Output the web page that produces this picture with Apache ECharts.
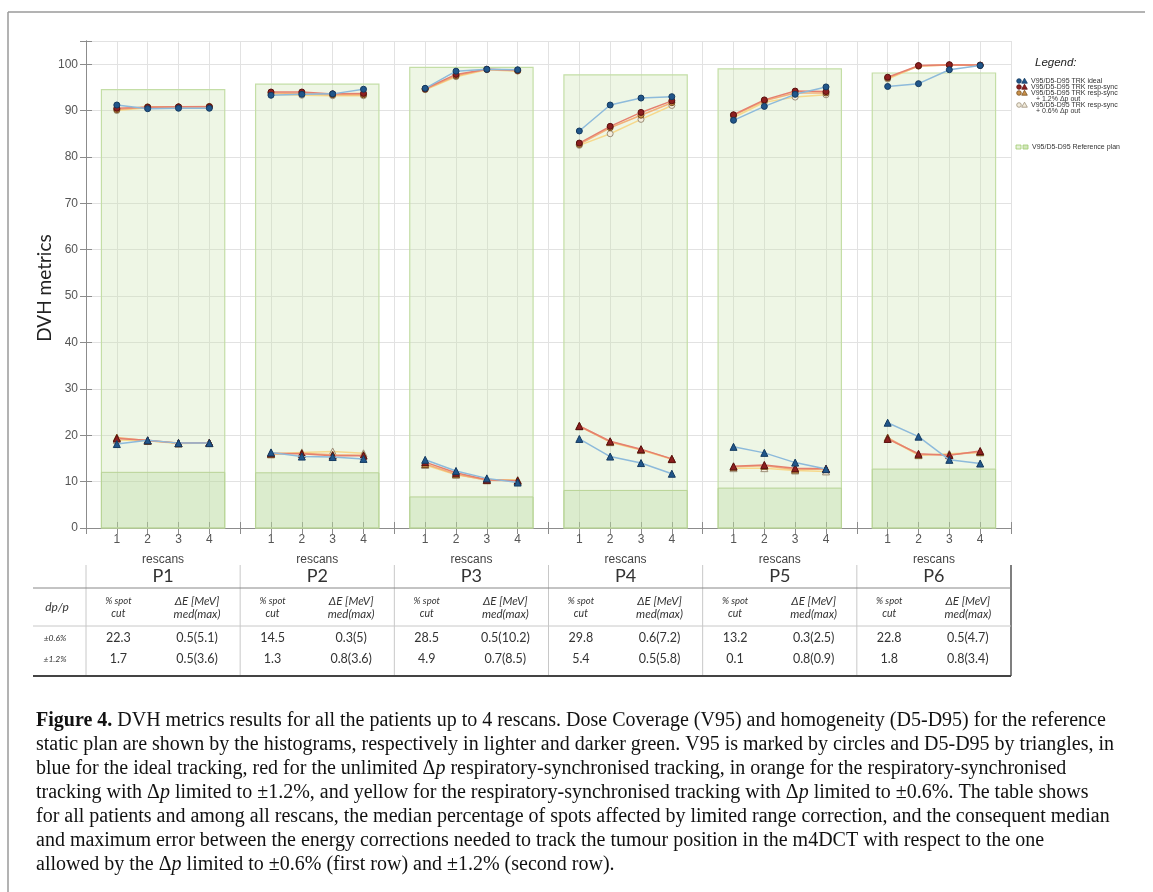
<!DOCTYPE html>
<html><head><meta charset="utf-8">
<script src="https://cdn.jsdelivr.net/npm/echarts@6/dist/echarts.min.js"></script>
<style>html,body{margin:0;padding:0;background:#fff}#c{width:1153px;height:892px}</style>
</head><body><div id="c"></div>
<script>
// ---------- data ----------
const patients = ['P1','P2','P3','P4','P5','P6'];
const rescans = [1,2,3,4];
const yTicks = [0,10,20,30,40,50,60,70,80,90,100];
const refV95 = [94.5, 95.7, 99.3, 97.7, 99.0, 98.1];
const refD = [12.0, 11.9, 6.7, 8.1, 8.6, 12.7];
const v95Ideal = [[91.2,90.4,90.5,90.5],[93.3,93.5,93.6,94.6],[94.8,98.5,98.9,98.8],[85.6,91.2,92.7,93.0],[87.9,90.9,93.5,95.1],[95.2,95.8,98.8,99.7]];
const v95Sync  = [[90.5,90.7,90.8,90.8],[94.0,94.0,93.6,93.7],[94.7,97.8,98.9,98.7],[83.0,86.6,89.6,92.1],[89.1,92.3,94.2,94.1],[97.2,99.7,99.9,99.8]];
const v95Cut12 = [[90.2,90.8,90.8,90.9],[93.8,93.7,93.4,93.4],[94.6,97.5,98.9,98.6],[82.7,86.3,89.0,91.7],[89.0,92.1,93.8,93.8],[97.0,99.6,99.8,99.8]];
const v95Cut06 = [[90.0,90.6,90.7,90.8],[93.5,93.3,93.2,93.2],[94.5,97.3,98.8,98.5],[82.5,85.0,88.1,91.1],[88.5,91.8,92.9,93.4],[96.8,99.6,99.8,99.7]];
const dIdeal = [[18.1,18.9,18.3,18.3],[16.3,15.4,15.3,14.9],[14.7,12.3,10.7,9.8],[19.2,15.4,14.0,11.7],[17.5,16.2,14.1,12.7],[22.7,19.7,14.7,13.9]];
const dSync  = [[19.3,18.9,18.3,18.4],[16.1,16.0,15.6,15.6],[14.2,11.9,10.4,10.2],[22.0,18.7,17.0,14.9],[13.3,13.6,12.9,12.8],[19.2,16.0,15.7,16.6]];
const dCut12 = [[19.5,18.8,18.3,18.4],[15.9,16.1,15.8,15.7],[13.8,11.6,10.3,10.2],[22.0,18.6,16.9,14.9],[13.2,13.4,12.6,12.7],[19.5,15.8,15.8,16.4]];
const dCut06 = [[19.0,18.8,18.2,18.3],[16.0,16.3,16.5,16.1],[13.6,11.5,10.4,10.4],[21.9,18.5,16.8,14.8],[12.9,12.9,12.4,12.2],[19.3,15.7,16.0,16.3]];
const spotCut06 = ['22.3','14.5','28.5','29.8','13.2','22.8'];
const dE06 = ['0.5(5.1)','0.3(5)','0.5(10.2)','0.6(7.2)','0.3(2.5)','0.5(4.7)'];
const spotCut12 = ['1.7','1.3','4.9','5.4','0.1','1.8'];
const dE12 = ['0.5(3.6)','0.8(3.6)','0.7(8.5)','0.5(5.8)','0.8(0.9)','0.8(3.4)'];
const rowLabels = ['±0.6%','±1.2%'];
const legendLines = ['V95/D5-D95 TRK ideal','V95/D5-D95 TRK resp-sync','V95/D5-D95 TRK resp-sync','+ 1.2% Δp out','V95/D5-D95 TRK resp-sync','+ 0.6% Δp out','V95/D5-D95 Reference plan'];
const captionLines = [
 '{b|Figure 4.} DVH metrics results for all the patients up to 4 rescans. Dose Coverage (V95) and homogeneity (D5-D95) for the reference',
 'static plan are shown by the histograms, respectively in lighter and darker green. V95 is marked by circles and D5-D95 by triangles, in',
 'blue for the ideal tracking, red for the unlimited Δ{i|p} respiratory-synchronised tracking, in orange for the respiratory-synchronised',
 'tracking with Δ{i|p} limited to ±1.2%, and yellow for the respiratory-synchronised tracking with Δ{i|p} limited to ±0.6%. The table shows',
 'for all patients and among all rescans, the median percentage of spots affected by limited range correction, and the consequent median',
 'and maximum error between the energy corrections needed to track the tumour position in the m4DCT with respect to the one',
 'allowed by the Δ{i|p} limited to ±0.6% (first row) and ±1.2% (second row).'
];

// ---------- helpers ----------
const SLOTS = 5; // 4 rescans + 1 gap per patient
function toXY(arr){
  const out = [];
  arr.forEach((vals,p)=>{
    vals.forEach((v,i)=>out.push([SLOTS*p + rescans[i], v]));
    out.push([SLOTS*p + SLOTS, '-']);
  });
  return out;
}
const styles = {
  ideal: {line:'#8dbadb', fill:'#21568a', border:'#143a60'},
  sync:  {line:'#e5806f', fill:'#8c1f1f', border:'#5a1010'},
  cut12: {line:'#f3b078', fill:'#c9914a', border:'#7a5020'},
  cut06: {line:'#f6d98c', fill:'#f3ecdc', border:'#9c8f78'}
};
function lineSeries(name, data, sym, st, z){
  return {type:'line', name, data: toXY(data), symbol: sym, symbolSize: sym==='triangle'?7:6,
    showSymbol:true, connectNulls:false, z,
    lineStyle:{color:st.line, width:1.5},
    itemStyle:{color:st.fill, borderColor:st.border, borderWidth:1},
    emphasis:{disabled:true}};
}

const axisGray = '#8c8c8c';
const chart = echarts.init(document.getElementById('c'), null, {renderer:'canvas'});
const option = {
  animation:false,
  backgroundColor:'#fff',
  grid:{left:86, right:142, top:41, bottom:364, outerBoundsMode:'none', containLabel:false},
  xAxis:[
    {type:'value', min:0, max:30, interval:1, position:'bottom',
     axisLine:{show:true, lineStyle:{color:axisGray, width:1}},
     axisTick:{show:true, inside:true, length:6, lineStyle:{color:axisGray}},
     axisLabel:{color:'#555', fontSize:12, fontFamily:'Liberation Sans', margin:6,
       formatter:v=>{const r=Math.round(v)%SLOTS; return r===0?'':String(rescans[r-1]);}},
     splitLine:{show:true, lineStyle:{color:'#e2e2e2', width:1}}},
    {type:'value', min:0, max:30, interval:1, position:'top',
     axisLine:{show:true, lineStyle:{color:axisGray, width:1}},
     axisTick:{show:true, inside:true, length:6, lineStyle:{color:axisGray}},
     axisLabel:{show:false}, splitLine:{show:false}}
  ],
  yAxis:[
    {type:'value', min:0, max:105, interval:10, position:'left',
     axisLine:{show:true, lineStyle:{color:axisGray, width:1}},
     axisTick:{show:true, inside:true, length:6, lineStyle:{color:axisGray}},
     axisLabel:{color:'#555', fontSize:12, fontFamily:'Liberation Sans', margin:8,
       formatter:v=> yTicks.indexOf(v)>=0 ? String(v) : ''},
     splitLine:{show:true, lineStyle:{color:'#e2e2e2', width:1}}},
    {type:'value', min:0, max:105, interval:10, position:'right',
     axisLine:{show:true, lineStyle:{color:axisGray, width:1}},
     axisTick:{show:true, inside:true, length:6, lineStyle:{color:axisGray}},
     axisLabel:{show:false}, splitLine:{show:false}}
  ],
  series:[
    {type:'custom', z:1, silent:true,
     data: patients.map((p,i)=>[SLOTS*i + (rescans[0]+rescans[3])/2, refV95[i], refD[i]]),
     encode:{x:0, y:[1,2]},
     renderItem(params, api){
       const c = api.value(0), hw = 2;
       const p0 = api.coord([c-hw, 0]);
       const p1 = api.coord([c+hw, api.value(1)]);
       const p2 = api.coord([c+hw, api.value(2)]);
       return {type:'group', children:[
         {type:'rect', shape:{x:p0[0], y:p1[1], width:p1[0]-p0[0], height:p0[1]-p1[1]},
          style:{fill:'rgba(200,225,170,0.3)', stroke:'#c4dea6', lineWidth:1.2}},
         {type:'rect', shape:{x:p0[0], y:p2[1], width:p2[0]-p0[0], height:p0[1]-p2[1]},
          style:{fill:'rgba(170,210,140,0.27)', stroke:'#b8d396', lineWidth:1}}
       ]};
     }},
    lineSeries('V95 cut06', v95Cut06, 'circle', styles.cut06, 3),
    lineSeries('V95 cut12', v95Cut12, 'circle', styles.cut12, 4),
    lineSeries('V95 sync', v95Sync, 'circle', styles.sync, 5),
    lineSeries('V95 ideal', v95Ideal, 'circle', styles.ideal, 6),
    lineSeries('D cut06', dCut06, 'triangle', styles.cut06, 3),
    lineSeries('D cut12', dCut12, 'triangle', styles.cut12, 4),
    lineSeries('D sync', dSync, 'triangle', styles.sync, 5),
    lineSeries('D ideal', dIdeal, 'triangle', styles.ideal, 6)
  ]
};
chart.setOption(option);

// ---------- annotations (table, legend, caption) ----------
const px = v => chart.convertToPixel({xAxisIndex:0}, v);
const g = [];
// outer frame
g.push({type:'line', shape:{x1:8,y1:12,x2:1145,y2:12}, style:{stroke:'#9a9a9a', lineWidth:1.5}});
g.push({type:'line', shape:{x1:8,y1:12,x2:8,y2:892}, style:{stroke:'#9a9a9a', lineWidth:1.5}});
// y name
g.push({type:'text', x:45, y:288, rotation:Math.PI/2,
  style:{text:'DVH metrics', font:'19px Lato', fill:'#222', align:'center', verticalAlign:'middle'}});
// rescans labels & patient headers
patients.forEach((p,i)=>{
  const cx = px(SLOTS*i + 2.5);
  g.push({type:'text', x:cx, y:560, style:{text:'rescans', font:'12px "Liberation Sans"', fill:'#444', align:'center', verticalAlign:'middle'}});
  g.push({type:'text', x:cx, y:576, style:{text:p, font:'18px Lato', fill:'#333', align:'center', verticalAlign:'middle'}});
  const c1 = px(SLOTS*i + 1.05), c2 = px(SLOTS*i + 3.6);
  g.push({type:'text', x:c1, y:601, style:{text:'% spot', font:'italic 9.5px Lato', fill:'#333', align:'center', verticalAlign:'middle'}});
  g.push({type:'text', x:c1, y:614, style:{text:'cut', font:'italic 10.5px Lato', fill:'#333', align:'center', verticalAlign:'middle'}});
  g.push({type:'text', x:c2, y:601, style:{text:'ΔE [MeV]', font:'italic 11.5px Lato', fill:'#333', align:'center', verticalAlign:'middle'}});
  g.push({type:'text', x:c2, y:614, style:{text:'med(max)', font:'italic 11.5px Lato', fill:'#333', align:'center', verticalAlign:'middle'}});
  g.push({type:'text', x:c1, y:638, style:{text:spotCut06[i], font:'12.5px Lato', fill:'#333', align:'center', verticalAlign:'middle'}});
  g.push({type:'text', x:c2, y:638, style:{text:dE06[i], font:'12.5px Lato', fill:'#333', align:'center', verticalAlign:'middle'}});
  g.push({type:'text', x:c1, y:659, style:{text:spotCut12[i], font:'12.5px Lato', fill:'#333', align:'center', verticalAlign:'middle'}});
  g.push({type:'text', x:c2, y:659, style:{text:dE12[i], font:'12.5px Lato', fill:'#333', align:'center', verticalAlign:'middle'}});
});
// table lines
for(let k=0;k<=patients.length;k++){
  const x = px(SLOTS*k);
  const last = k===patients.length;
  g.push({type:'line', shape:{x1:x,y1:565,x2:x,y2:676}, style:{stroke:last?'#555':'#c8c8c8', lineWidth:last?1.5:1}});
}
const xr = px(SLOTS*patients.length);
g.push({type:'line', shape:{x1:33,y1:588,x2:xr,y2:588}, style:{stroke:'#888', lineWidth:1}});
g.push({type:'line', shape:{x1:33,y1:626,x2:xr,y2:626}, style:{stroke:'#c8c8c8', lineWidth:1}});
g.push({type:'line', shape:{x1:33,y1:676,x2:xr,y2:676}, style:{stroke:'#444', lineWidth:2}});
g.push({type:'text', x:57, y:607, style:{text:'dp/p', font:'italic 12px Lato', fill:'#333', align:'center', verticalAlign:'middle'}});
g.push({type:'text', x:55, y:638, style:{text:rowLabels[0], font:'italic 8.5px Lato', fill:'#333', align:'center', verticalAlign:'middle'}});
g.push({type:'text', x:55, y:659, style:{text:rowLabels[1], font:'italic 8.5px Lato', fill:'#333', align:'center', verticalAlign:'middle'}});

// legend
g.push({type:'text', x:1035, y:63, style:{text:'Legend:', font:'italic 11.5px "Liberation Sans"', fill:'#222', align:'left', verticalAlign:'middle'}});
const legRows = [
  {y:81, st:styles.ideal, text:legendLines[0]},
  {y:87, st:styles.sync, text:legendLines[1]},
  {y:93, st:styles.cut12, text:legendLines[2]},
  {y:99, st:null, text:legendLines[3]},
  {y:105, st:styles.cut06, text:legendLines[4]},
  {y:111, st:null, text:legendLines[5]}
];
legRows.forEach(r=>{
  if(r.st){
    g.push({type:'circle', shape:{cx:1019, cy:r.y, r:2.3}, style:{fill:r.st.fill, stroke:r.st.border, lineWidth:0.8}});
    g.push({type:'polygon', shape:{points:[[1024.5,r.y-2.8],[1027.3,r.y+2.2],[1021.7,r.y+2.2]]}, style:{fill:r.st.fill, stroke:r.st.border, lineWidth:0.8}});
  }
  g.push({type:'text', x: r.st?1031:1036, y:r.y, style:{text:r.text, font:'7px "Liberation Sans"', fill:'#333', align:'left', verticalAlign:'middle'}});
});
g.push({type:'rect', shape:{x:1016, y:145, width:5, height:4}, style:{fill:'#e6f1d8', stroke:'#9fcb6e', lineWidth:0.8}});
g.push({type:'rect', shape:{x:1023, y:145, width:5, height:4}, style:{fill:'#d3e7bc', stroke:'#9fcb6e', lineWidth:0.8}});
g.push({type:'text', x:1032, y:147, style:{text:legendLines[6], font:'7px "Liberation Sans"', fill:'#333', align:'left', verticalAlign:'middle'}});

// caption
captionLines.forEach((t,i)=>{
  g.push({type:'text', x:36, y:721 + 24*i, style:{text:t, font:'20px "Liberation Serif"', fill:'#111',
    align:'left', verticalAlign:'middle',
    rich:{b:{font:'bold 20px "Liberation Serif"', fill:'#111'}, i:{font:'italic 20px "Liberation Serif"', fill:'#111'}}}});
});

chart.setOption({graphic:{elements:g}});
</script>
</body></html>
